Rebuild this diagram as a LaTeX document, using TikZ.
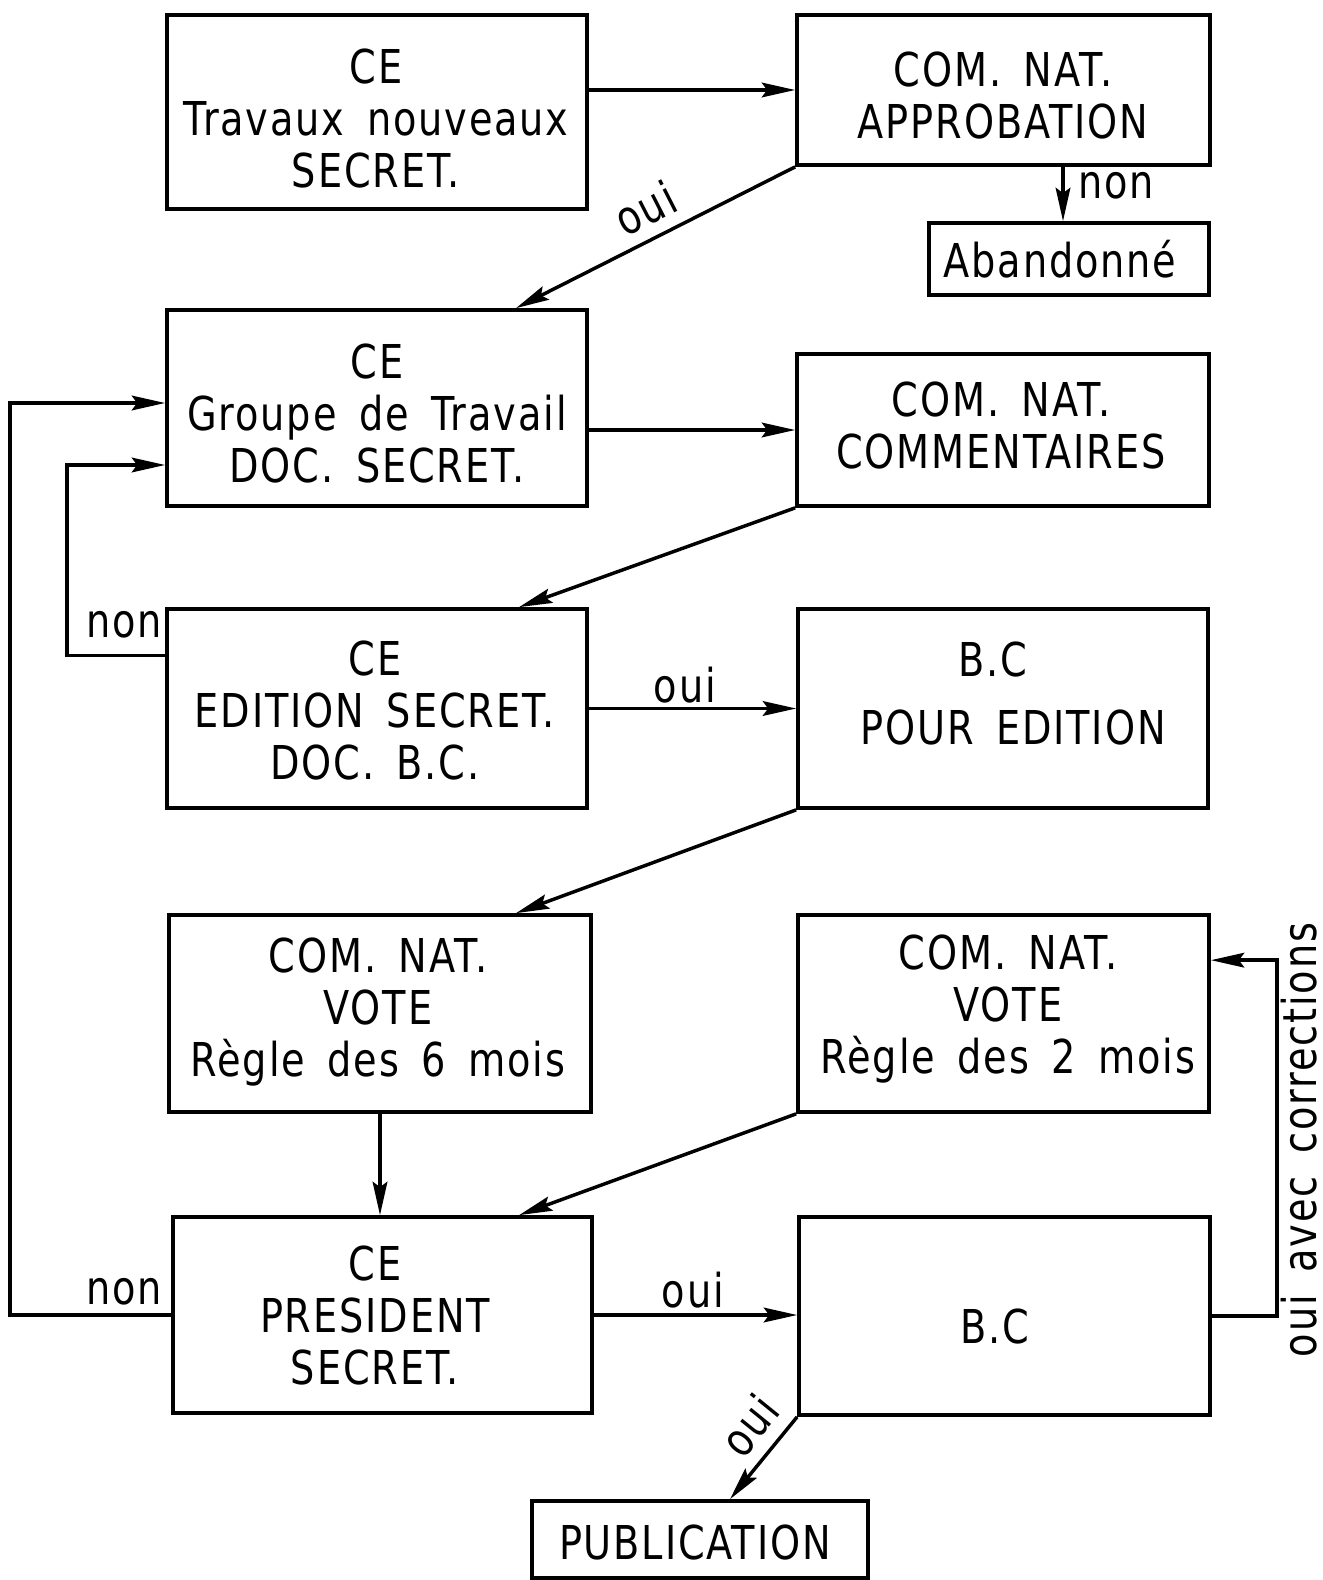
\documentclass[tikz,border=0pt]{standalone}
\usepackage{fontspec}
\setmainfont{DejaVu Sans}[FakeStretch=0.82,LetterSpace=4,WordSpace=1.6]
\usetikzlibrary{fit,arrows.meta}
\begin{document}
\begin{tikzpicture}[x=0.75pt,y=0.75pt,
  every node/.style={font=\fontsize{35}{39}\selectfont},
  box/.style={draw,line width=2.8pt,inner sep=0pt,rectangle},
  txt/.style={align=center,inner sep=0pt},
  lbl/.style={inner sep=0pt},
  arr/.style={line width=2.6pt,-{Stealth[length=25pt,width=11pt,inset=4pt]}},
  ln/.style={line width=2.6pt}]
\useasboundingbox (0,0) rectangle (1323,-1580);
\fill[white] (0,0) rectangle (1323,-1580);
% boxes
\node[box,fit={(167,-15)(587,-209)}] (b1) {};
\node[box,fit={(797,-15)(1210,-165)}] (b2) {};
\node[box,fit={(929,-223)(1209,-295)}] (ab) {};
\node[box,fit={(167,-310)(587,-506)}] (b3) {};
\node[box,fit={(797,-354)(1209,-506)}] (b4) {};
\node[box,fit={(167,-609)(587,-808)}] (b5) {};
\node[box,fit={(798,-609)(1208,-808)}] (b6) {};
\node[box,fit={(169,-915)(591,-1112)}] (b7) {};
\node[box,fit={(798,-915)(1209,-1112)}] (b8) {};
\node[box,fit={(173,-1217)(592,-1413)}] (b9) {};
\node[box,fit={(799,-1217)(1210,-1415)}] (b10) {};
\node[box,fit={(532,-1501)(868,-1578)}] (pub) {};
% texts
\node[txt] (t1) at (376,-119) {CE\\Travaux nouveaux\\SECRET.};
\node[txt] (t2) at (1003,-96) {COM. NAT.\\APPROBATION};
\node[txt] (tab) at (1060,-259) {Abandonné};
\node[txt] (t3) at (377,-414) {CE\\Groupe de Travail\\DOC. SECRET.};
\node[txt] (t4) at (1001,-426) {COM. NAT.\\COMMENTAIRES};
\node[txt] (t5) at (375,-711) {CE\\EDITION SECRET.\\DOC. B.C.};
\node[txt] (t6a) at (993,-660) {B.C};
\node[txt] (t6b) at (1013,-728) {POUR EDITION};
\node[txt] (t7) at (378,-1012) {COM. NAT.\\VOTE\\Règle des 6 mois};
\node[txt] (t8) at (1008,-1009) {COM. NAT.\\VOTE\\Règle des 2 mois};
\node[txt] (t9) at (375,-1315) {CE\\PRESIDENT\\SECRET.};
\node[txt] (t10) at (995,-1326) {B.C};
\node[txt] (tpub) at (695,-1542) {PUBLICATION};
% connectors
\draw[arr] (b1.east |- b2.west) -- (b2.west);
\draw[arr] (b2.south west) -- ([xshift=104.25pt]b3.north);
\draw[arr] ([xshift=-4.5pt]ab.north |- b2.south) -- ([xshift=-4.5pt]ab.north);
\draw[arr] (b3.east |- b4.west) -- (b4.west);
\draw[arr] (b4.south west) -- ([xshift=106.5pt]b5.north);
\draw[arr] (b5.east) -- (b6.west);
\draw[arr] ([yshift=39.75pt]b5.west) -- ++(-98,0) |- ([yshift=-42.75pt]b3.west);
\draw[arr] (b6.south west) -- ([xshift=102pt]b7.north);
\draw[arr] (b7.south) -- (b7.south |- b9.north);
\draw[arr] (b8.south west) -- ([xshift=102.4pt]b9.north);
\draw[arr] (b9.east) -- (b9.east -| b10.west);
\draw[arr] (b9.west) -- ++(-161,0) |- ([yshift=3.75pt]b3.west);
\draw[arr] (b10.east) -- ++(65,0) |- ([yshift=40pt]b8.east);
\draw[arr] (b10.south west) -- ([xshift=22.5pt]pub.north);
% labels
\node[lbl,rotate=27] (l1) at (645,-208) {oui};
\node[lbl] (l2) at (1116,-186) {non};
\node[lbl] (l3) at (124,-625) {non};
\node[lbl] (l4) at (685,-685) {oui};
\node[lbl] (l5) at (124,-1292) {non};
\node[lbl] (l6) at (693,-1290) {oui};
\node[lbl,rotate=51] (l7) at (749,-1425) {oui};
\node[lbl,rotate=90] (l8) at (1299,-1140) {oui avec corrections};
\end{tikzpicture}
\end{document}
